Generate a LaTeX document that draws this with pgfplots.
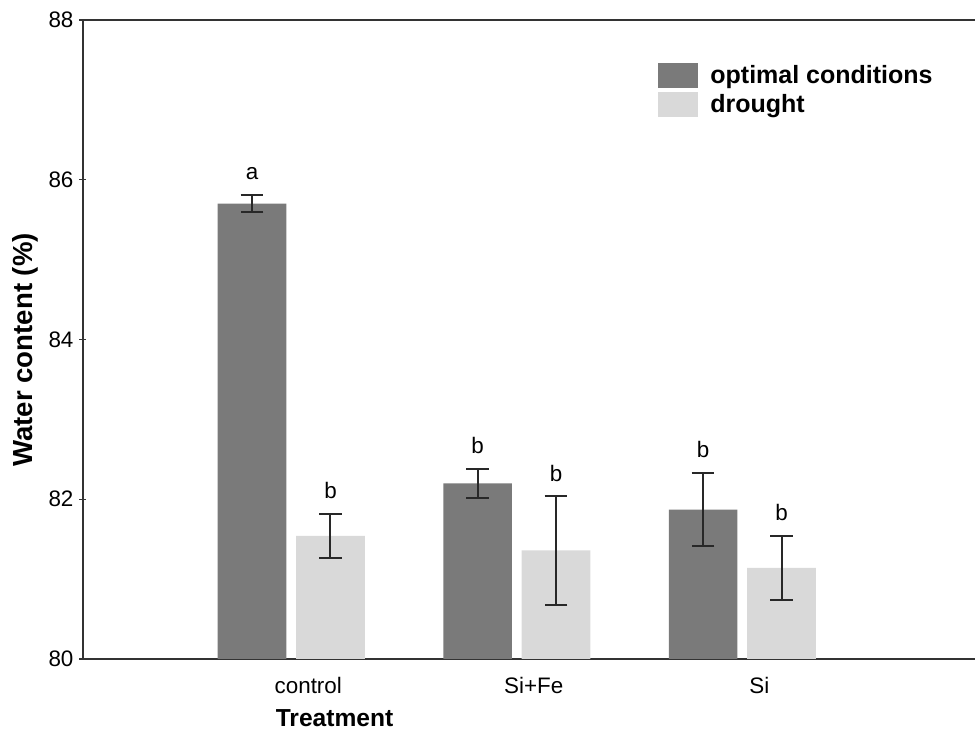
\documentclass[border=0pt]{standalone}
\usepackage{fontspec}
\setmainfont{Liberation Sans}
\usepackage{pgfplots}
\pgfplotsset{compat=1.18}
\definecolor{darkbar}{RGB}{122,122,122}
\definecolor{lightbar}{RGB}{217,217,217}
\definecolor{errc}{RGB}{40,40,40}
\begin{document}
\begin{tikzpicture}
\begin{axis}[
  name=ax,
  scale only axis,
  width=446pt, height=319.5pt,
  xmin=0.0765, xmax=4.032,
  ymin=80, ymax=88,
  ytick={80,82,84,86,88},
  xtick={1,2,3},
  xticklabels={control,Si+Fe,Si},
  axis x line*=box,
  axis y line*=left,
  /pgf/number format/assume math mode=true,
  tick label style={font=\fontsize{11.2}{13}\selectfont},
  xtick style={draw=none},
  ytick pos=left,
  xtick pos=bottom,
  tick align=center,
  major tick length=3.5pt,
  yticklabel style={xshift=0.5pt},
  xticklabel style={xshift=8.5pt, yshift=-4pt},
  axis line style={line width=0.75pt, draw=black!80, -},
  every tick/.style={line width=0.6pt, black!80},
  xlabel={\textbf{Treatment}},
  ylabel={\textbf{Water content (\%)}},
  xlabel style={font=\fontsize{12.3}{14}\selectfont, at={(axis description cs:0.282,-0.092)}, anchor=center},
  ylabel style={font=\fontsize{13.8}{15}\selectfont, at={(axis description cs:-0.065,0.4836)}, anchor=center},
  legend style={at={(axis description cs:0.6446,0.933)}, anchor=north west, draw=none, fill=none, inner sep=0pt,
    font=\fontsize{12.5}{14}\selectfont\bfseries, row sep=2pt,
    nodes={inner sep=1pt}, /tikz/every odd column/.append style={column sep=5pt}},
  legend cell align=left,
  legend image code/.code={\fill[#1] (0pt,-6.25pt) rectangle (20pt,6.25pt);},
  clip=false,
]
\addplot[ybar, bar width=0.304, bar shift=0pt, fill=darkbar, draw=none,
  error bars/.cd, y dir=both, y explicit,
  error bar style={line width=1pt, errc},
  error mark options={rotate=90, mark size=5.67pt, line width=1pt, errc}]
  coordinates {(0.826,85.70) +- (0,0.11) (1.826,82.20) +- (0,0.18) (2.826,81.87) +- (0,0.46)};
\addlegendentry{optimal conditions}
\addplot[ybar, bar width=0.304, bar shift=0pt, fill=lightbar, draw=none,
  error bars/.cd, y dir=both, y explicit,
  error bar style={line width=1pt, errc},
  error mark options={rotate=90, mark size=5.67pt, line width=1pt, errc}]
  coordinates {(1.174,81.54) +- (0,0.28) (2.174,81.36) +- (0,0.68) (3.174,81.14) +- (0,0.40)};
\addlegendentry{drought}
\addplot[forget plot, draw=none, mark=none, nodes near coords, point meta=explicit symbolic,
  every node near coord/.append style={anchor=base, yshift=7.5pt, font=\fontsize{11.2}{13}\selectfont, inner sep=0pt}]
  coordinates {(0.826,85.81)[a] (1.174,81.82)[b] (1.826,82.38)[b] (2.174,82.04)[b] (2.826,82.33)[b] (3.174,81.54)[b]};
\end{axis}
\pgfresetboundingbox
\path ([xshift=-41.5pt,yshift=-36pt]ax.south west) rectangle ([yshift=10pt]ax.north east);
\end{tikzpicture}
\end{document}
